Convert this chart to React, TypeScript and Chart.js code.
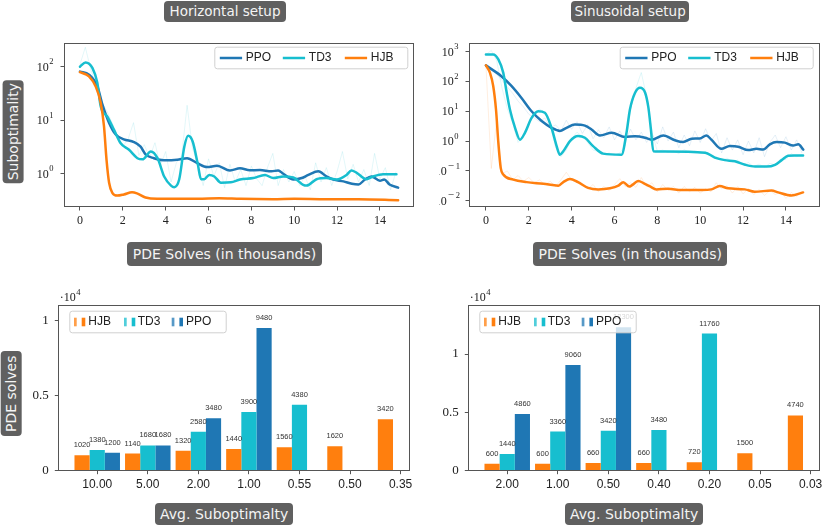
import React, { useEffect, useRef } from 'react';
import { Chart, LineController, LineElement, PointElement, LinearScale, LogarithmicScale, BarController, BarElement } from 'chart.js';

Chart.register(LineController, LineElement, PointElement, LinearScale, LogarithmicScale, BarController, BarElement);

// colours and fonts
const C_PPO = '#1f77b4';
const C_TD3 = '#17becf';
const C_HJB = '#ff7f0e';
const FRAME = '#555';
const INK = '#222';
const SERIF = '"Liberation Serif", "DejaVu Serif", serif';
const SANS = '"Liberation Sans", Arial, sans-serif';
const BADGE = '"DejaVu Sans", sans-serif';

// ---- line charts: [x (thousand PDE solves), suboptimality] ----
const lineXTicks = [0, 2, 4, 6, 8, 10, 12, 14];
const hzYTicks = [1, 10, 100];
const sinYTicks = [0.01, 0.1, 1, 10, 100, 1000];

const hzPpo: [number, number][] = [
  [0, 81], [0.42, 71], [0.81, 43], [1.05, 19.5], [1.36, 8.9], [1.67, 5.4], [2.05, 4.4], [2.52, 3.9],
  [2.83, 3.2], [3.06, 2.3], [3.45, 1.95], [3.92, 1.78], [4.54, 1.82], [5.0, 1.95], [5.47, 1.58],
  [5.93, 1.33], [6.4, 1.41], [7.0, 1.15], [7.47, 1.26], [7.93, 1.16], [8.4, 1.17], [8.94, 1.11],
  [9.25, 1.15], [9.49, 1.0], [9.96, 0.78], [10.35, 0.83], [10.66, 0.95], [11.13, 1.11], [11.5, 0.89],
  [11.82, 0.78], [12.3, 0.72], [12.69, 0.65], [13.0, 0.63], [13.3, 0.78], [13.6, 0.89], [14.0, 0.74],
  [14.2, 0.78], [14.45, 0.63], [14.85, 0.55],
];
const hzTd3: [number, number][] = [
  [0, 100], [0.26, 120], [0.58, 95], [0.81, 50], [0.97, 18], [1.28, 11.7], [1.59, 6.6], [1.9, 3.7],
  [2.29, 2.8], [2.68, 1.95], [2.92, 1.86], [3.31, 2.6], [3.62, 1.95], [3.93, 0.89], [4.25, 0.6],
  [4.4, 0.56], [4.63, 0.78], [4.87, 3.2], [5.05, 5.1], [5.26, 4.0], [5.49, 1.58], [5.65, 0.79],
  [5.8, 0.79], [6.03, 0.95], [6.27, 0.89], [6.58, 0.68], [7.04, 0.69], [7.47, 0.78], [8.09, 0.83],
  [8.63, 0.95], [9.02, 0.83], [9.49, 0.89], [9.96, 0.85], [10.42, 0.62], [10.58, 0.6], [11.04, 0.79],
  [11.5, 0.83], [11.98, 0.78], [12.44, 0.95], [12.67, 1.15], [12.9, 1.05], [13.37, 0.79], [13.68, 0.89],
  [14.15, 0.98], [14.77, 0.98],
];
const hzHjb: [number, number][] = [
  [0, 79], [0.42, 66], [0.73, 43], [0.97, 21], [1.12, 7.8], [1.24, 1.82], [1.36, 0.68], [1.51, 0.44],
  [1.74, 0.39], [2.05, 0.41], [2.43, 0.45], [2.66, 0.43], [3.06, 0.36], [3.6, 0.34], [4.4, 0.34],
  [5.5, 0.34], [6.5, 0.35], [7.5, 0.34], [9, 0.335], [10, 0.34], [11.5, 0.335], [13, 0.335], [14.85, 0.32],
];
const sinPpo: [number, number][] = [
  [0, 347], [0.72, 151], [1.19, 71], [1.66, 28], [2.13, 10], [2.6, 4.7], [3.06, 2.8], [3.45, 2.2],
  [3.76, 2.8], [4.15, 3.6], [4.62, 3.3], [4.93, 2.45], [5.32, 1.55], [5.87, 1.9], [6.49, 1.38],
  [6.96, 1.45], [7.43, 1.3], [7.73, 1.12], [8.28, 1.55], [8.82, 1.07], [9.2, 0.93], [9.6, 1.2],
  [9.98, 1.23], [10.29, 1.55], [10.52, 1.12], [10.99, 0.55], [11.38, 0.68], [11.77, 0.65], [12.24, 0.5],
  [12.63, 0.55], [12.94, 0.52], [13.25, 0.78], [13.56, 0.93], [13.95, 0.89], [14.34, 0.71], [14.58, 0.78],
  [14.81, 0.52],
];
const sinTd3: [number, number][] = [
  [0, 813], [0.34, 813], [0.58, 550], [0.81, 195], [0.97, 42], [1.12, 11.5], [1.36, 2.8], [1.59, 1.12],
  [1.82, 1.9], [2.13, 6.0], [2.44, 10], [2.75, 8.9], [3.06, 2.8], [3.3, 0.68], [3.45, 0.35], [3.61, 0.46],
  [3.92, 1.0], [4.3, 1.48], [4.62, 1.29], [5.0, 0.68], [5.47, 0.38], [6.33, 0.35], [6.56, 1.9],
  [6.72, 11.5], [6.96, 42], [7.19, 62], [7.43, 42], [7.58, 13.5], [7.7, 2.45], [7.81, 0.46], [8.36, 0.45],
  [10.23, 0.41], [10.68, 0.28], [11.15, 0.23], [11.62, 0.21], [12.1, 0.16], [12.56, 0.14], [13.1, 0.14],
  [13.49, 0.16], [13.8, 0.23], [14.1, 0.32], [14.4, 0.33], [14.8, 0.33],
];
const sinHjb: [number, number][] = [
  [0, 347], [0.19, 195], [0.34, 71], [0.47, 11.5], [0.58, 0.87], [0.69, 0.126], [0.81, 0.076],
  [1.28, 0.051], [1.9, 0.042], [2.68, 0.037], [3.38, 0.032], [3.61, 0.042], [3.92, 0.054], [4.3, 0.042],
  [4.77, 0.027], [5.24, 0.024], [5.79, 0.026], [6.18, 0.032], [6.41, 0.042], [6.69, 0.03], [7.12, 0.046],
  [7.35, 0.039], [7.66, 0.03], [7.96, 0.024], [8.5, 0.025], [9.13, 0.023], [10.06, 0.023], [10.52, 0.024],
  [10.91, 0.031], [11.3, 0.026], [12.08, 0.024], [12.54, 0.02], [13.33, 0.022], [13.64, 0.019],
  [14.26, 0.015], [14.8, 0.019],
];

// faint un-smoothed runs, sampled every 250 solves
const rawX = [
  0, 0.25, 0.5, 0.75, 1, 1.25, 1.5, 1.75, 2, 2.25, 2.5, 2.75, 3, 3.25, 3.5, 3.75, 4, 4.25, 4.5, 4.75,
  5, 5.25, 5.5, 5.75, 6, 6.25, 6.5, 6.75, 7, 7.25, 7.5, 7.75, 8, 8.25, 8.5, 8.75, 9, 9.25, 9.5, 9.75,
  10, 10.25, 10.5, 10.75, 11, 11.25, 11.5, 11.75, 12, 12.25, 12.5, 12.75, 13, 13.25, 13.5, 13.75, 14, 14.25, 14.5, 14.75,
];
const hzTd3Raw = [
  110, 230, 90, 45, 22, 15, 9, 5, 3.2, 4.5, 9, 2.2, 3.5, 2.0, 3.8, 1.4, 2.6, 0.7, 1.6, 2.2,
  19, 3.0, 1.5, 0.6, 1.9, 0.9, 1.6, 0.55, 1.5, 0.7, 1.2, 0.6, 1.4, 0.8, 0.6, 1.3, 2.4, 0.6, 1.2, 0.7,
  1.1, 0.6, 0.9, 0.5, 1.6, 0.7, 1.3, 0.6, 1.1, 2.6, 0.8, 1.5, 0.7, 1.2, 0.6, 2.4, 0.8, 1.3, 0.5, 1.1,
];
const sinPpoRaw = [
  340, 250, 170, 110, 65, 40, 22, 14, 8, 6, 4.5, 6, 2.8, 3.5, 2.2, 5, 2.5, 4.5, 1.8, 3.6,
  1.2, 2.4, 1.3, 3.0, 1.1, 2.2, 1.0, 2.5, 1.1, 2.0, 0.9, 1.8, 0.8, 3.0, 1.0, 2.0, 0.6, 1.6, 0.7, 2.2,
  0.9, 2.6, 1.0, 1.8, 0.4, 1.3, 0.5, 1.1, 0.35, 1.0, 0.4, 1.3, 0.3, 0.9, 1.6, 0.6, 1.4, 0.5, 1.1, 0.4,
];
const sinTd3Raw = [
  800, 1100, 500, 60, 12, 4, 0.9, 1.5, 4, 7, 12, 9, 3.5, 0.6, 0.3, 0.5, 1.2, 2.0, 1.4, 0.9,
  0.5, 0.45, 0.35, 0.4, 0.33, 0.4, 0.7, 12, 60, 200, 30, 2, 0.45, 0.5, 0.42, 0.47, 0.38, 0.52, 0.41, 0.46,
  0.39, 0.44, 0.3, 0.3, 0.22, 0.27, 0.2, 0.23, 0.16, 0.19, 0.14, 0.17, 0.13, 0.18, 0.16, 0.25, 0.24, 0.38, 0.3, 0.36,
];
const sinHjbRaw = [
  360, 0.12, 5, 0.08, 0.1, 0.05, 0.07, 0.045, 0.06, 0.04, 0.05, 0.035, 0.045, 0.03, 0.05, 0.09, 0.05, 0.04, 0.035, 0.025,
  0.035, 0.02, 0.03, 0.022, 0.035, 0.055, 0.03, 0.04, 0.028, 0.06, 0.03, 0.04, 0.02, 0.035, 0.022, 0.03, 0.018, 0.03, 0.02, 0.028,
  0.018, 0.025, 0.02, 0.04, 0.025, 0.032, 0.018, 0.03, 0.017, 0.026, 0.016, 0.024, 0.015, 0.022, 0.016, 0.02, 0.012, 0.019, 0.014, 0.02,
];

// ---- bar charts: PDE solves needed to reach an average suboptimality ----
const barYTicks = [0, 5000, 10000];
const barYLabels = ['0', '0.5', '1'];

const hzCats = ['10.00', '5.00', '2.00', '1.00', '0.55', '0.50', '0.35'];
const hzBarHjb = [1020, 1140, 1320, 1440, 1560, 1620, 3420];
const hzBarTd3 = [1380, 1680, 2580, 3900, 4380, null, null];
const hzBarPpo = [1200, 1680, 3480, 9480, null, null, null];

const sinCats = ['2.00', '1.00', '0.50', '0.40', '0.20', '0.05', '0.03'];
const sinBarHjb = [600, 600, 660, 660, 720, 1500, 4740];
const sinBarTd3 = [1440, 3360, 3420, 3480, 11760, null, null];
const sinBarPpo = [4860, 9060, 12300, null, null, null, null];

const framePlugin = {
  id: 'frame',
  afterDraw(chart: any) {
    const { ctx, chartArea: a } = chart;
    ctx.save();
    ctx.strokeStyle = FRAME;
    ctx.lineWidth = 1;
    ctx.strokeRect(Math.round(a.left) + 0.5, Math.round(a.top) + 0.5, Math.round(a.right - a.left) - 1, Math.round(a.bottom - a.top) - 1);
    ctx.restore();
  },
};

function legendBox(ctx: any, x: number, y: number, w: number, h: number) {
  ctx.beginPath();
  ctx.roundRect(x + 0.5, y + 0.5, w, h, 2.5);
  ctx.fillStyle = 'rgba(255,255,255,0.8)';
  ctx.fill();
  ctx.strokeStyle = '#d0d0d0';
  ctx.lineWidth = 1;
  ctx.stroke();
}

// 10^n labels of the log axes, drawn with a raised exponent
const powLabels = {
  id: 'powLabels',
  afterDraw(chart: any) {
    const { ctx, chartArea: a, scales } = chart;
    const ys = scales.y;
    ctx.save();
    ctx.fillStyle = INK;
    ctx.textAlign = 'left';
    ctx.textBaseline = 'alphabetic';
    for (const t of ys.ticks) {
      const py = ys.getPixelForValue(t.value);
      const e = Math.round(Math.log10(t.value));
      const digits = String(Math.abs(e));
      ctx.font = `12px ${SERIF}`;
      const bw = ctx.measureText('10').width;
      ctx.font = `8.5px ${SERIF}`;
      const dw = ctx.measureText(digits).width;
      const mw = e < 0 ? 8.5 : 0;
      const right = e < 0 ? a.left - 9 : a.left - 10.5;
      const x0 = right - dw - mw - bw - 0.5;
      ctx.font = `12px ${SERIF}`;
      ctx.fillText('10', x0, py + 4);
      if (e < 0) {
        ctx.font = `11px ${SERIF}`;
        ctx.fillText('\u2212', x0 + bw + 1, py - 2.3);
      }
      ctx.font = `8.5px ${SERIF}`;
      ctx.fillText(digits, x0 + bw + 0.5 + mw, py - 2.3);
    }
    ctx.restore();
  },
};

function lineLegend(rightGap: number) {
  return {
    id: 'lineLegend',
    afterDraw(chart: any) {
      const { ctx, chartArea: a } = chart;
      const w = 193, h = 21.6;
      const x0 = a.right - rightGap - w, y0 = a.top + 3.7;
      ctx.save();
      legendBox(ctx, x0, y0, w, h);
      const cy = y0 + h / 2 + 0.5;
      const items: [string, string, number][] = [[C_PPO, 'PPO', 5.5], [C_TD3, 'TD3', 68.5], [C_HJB, 'HJB', 130.5]];
      for (const [c, t, off] of items) {
        ctx.strokeStyle = c;
        ctx.lineWidth = 2.5;
        ctx.beginPath();
        ctx.moveTo(x0 + off, cy);
        ctx.lineTo(x0 + off + 22.3, cy);
        ctx.stroke();
        ctx.fillStyle = INK;
        ctx.font = `12px ${SANS}`;
        ctx.textAlign = 'left';
        ctx.textBaseline = 'middle';
        ctx.fillText(t, x0 + off + 26, cy);
      }
      ctx.restore();
    },
  };
}

function smooth(label: string, color: string, pts: [number, number][], order: number) {
  return {
    label, order, borderColor: color, borderWidth: 2.5, pointRadius: 0,
    cubicInterpolationMode: 'monotone', borderCapStyle: 'round',
    data: pts.map(([x, y]) => ({ x, y })),
  };
}

function raw(color: string, ys: number[], order: number) {
  return {
    order, borderColor: color, borderWidth: 1, pointRadius: 0,
    data: rawX.map((x, i) => ({ x, y: ys[i] })),
  };
}

function lineConfig(o: any) {
  const tickGrid = { drawOnChartArea: false, drawTicks: true, tickLength: 3.5, tickWidth: 1, tickColor: FRAME };
  return {
    type: 'line',
    data: { datasets: o.datasets },
    options: {
      responsive: false,
      animation: false,
      events: [],
      layout: { padding: o.pad },
      plugins: { legend: { display: false }, tooltip: { enabled: false } },
      scales: {
        x: {
          type: 'linear', min: o.xMin, max: o.xMax,
          afterBuildTicks: (s: any) => { s.ticks = lineXTicks.map((v) => ({ value: v })); },
          afterFit: (s: any) => { s.height = 28; },
          grid: tickGrid,
          border: { display: false },
          ticks: { font: { family: SERIF, size: 12 }, color: INK, padding: 3, maxRotation: 0, autoSkip: false, callback: (v: any) => String(v) },
        },
        y: {
          type: 'logarithmic', min: o.yMin, max: o.yMax,
          afterBuildTicks: (s: any) => { s.ticks = o.yTicks.map((v: number) => ({ value: v })); },
          afterFit: (s: any) => { s.width = o.yAxisW; },
          grid: tickGrid,
          border: { display: false },
          ticks: { display: false },
        },
      },
    },
    plugins: [framePlugin, powLabels, lineLegend(o.legendGap)],
  };
}

const barValues = {
  id: 'barValues',
  afterDatasetsDraw(chart: any) {
    const { ctx } = chart;
    ctx.save();
    ctx.font = `7.5px ${SANS}`;
    ctx.fillStyle = '#333';
    ctx.textAlign = 'center';
    ctx.textBaseline = 'middle';
    chart.data.datasets.forEach((d: any, di: number) => {
      const meta = chart.getDatasetMeta(di);
      meta.data.forEach((el: any, i: number) => {
        const v = d.data[i].y;
        if (v == null) return;
        ctx.fillText(String(v), el.x, el.y - 10);
      });
    });
    ctx.restore();
  },
};

const barDecor = {
  id: 'barDecor',
  afterDraw(chart: any) {
    const { ctx, chartArea: a } = chart;
    ctx.save();
    // offset text of the y axis
    ctx.fillStyle = INK;
    ctx.textAlign = 'left';
    ctx.textBaseline = 'alphabetic';
    ctx.font = `12px ${SERIF}`;
    ctx.fillText('\u00b710', a.left + 1.5, a.top - 3.7);
    const w = ctx.measureText('\u00b710').width;
    ctx.font = `8.5px ${SERIF}`;
    ctx.fillText('4', a.left + 2 + w, a.top - 10);
    // legend
    const x0 = a.left + 11, y0 = a.top + 5.7, bw = 156.4, bh = 21.6;
    legendBox(ctx, x0, y0, bw, bh);
    const cy = y0 + bh / 2 + 0.5;
    const items: [string, string, number, number][] = [[C_HJB, 'HJB', 4.7, 19], [C_TD3, 'TD3', 54.7, 68.4], [C_PPO, 'PPO', 102.4, 116.7]];
    for (const [c, t, off, toff] of items) {
      ctx.fillStyle = c;
      ctx.globalAlpha = 0.75;
      ctx.fillRect(x0 + off, cy - 4.3, 2.7, 8.6);
      ctx.globalAlpha = 1;
      ctx.fillRect(x0 + off + 7.7, cy - 4.3, 3.6, 8.6);
      ctx.fillStyle = INK;
      ctx.font = `12px ${SANS}`;
      ctx.textBaseline = 'middle';
      ctx.fillText(t, x0 + toff, cy);
      ctx.textBaseline = 'alphabetic';
    }
    ctx.restore();
  },
};

function barConfig(o: any) {
  const tickGrid = { offset: false, drawOnChartArea: false, drawTicks: true, tickLength: 3.5, tickWidth: 1, tickColor: FRAME };
  const ds = (label: string, color: string, vals: (number | null)[]) => ({
    label, backgroundColor: color, categoryPercentage: 0.9, barPercentage: 1,
    data: vals.map((v, i) => ({ x: i, y: v })),
  });
  return {
    type: 'bar',
    data: { datasets: [ds('HJB', C_HJB, o.hjb), ds('TD3', C_TD3, o.td3), ds('PPO', C_PPO, o.ppo)] },
    options: {
      responsive: false,
      animation: false,
      events: [],
      layout: { padding: o.pad },
      plugins: { legend: { display: false }, tooltip: { enabled: false } },
      scales: {
        x: {
          type: 'linear', min: -0.77, max: 6.2, offset: false,
          afterBuildTicks: (s: any) => { s.ticks = o.cats.map((_: string, i: number) => ({ value: i })); },
          afterFit: (s: any) => { s.height = 24.3; },
          grid: tickGrid,
          border: { display: false },
          ticks: { font: { family: SANS, size: 12 }, color: INK, padding: 3, maxRotation: 0, autoSkip: false, callback: (_v: any, i: number) => o.cats[i] },
        },
        y: {
          min: 0, max: o.yMax,
          afterBuildTicks: (s: any) => { s.ticks = barYTicks.map((v) => ({ value: v })); },
          afterFit: (s: any) => { s.width = o.yAxisW; },
          grid: tickGrid,
          border: { display: false },
          ticks: { font: { family: SERIF, size: 13 }, color: INK, padding: 6, callback: (_v: any, i: number) => barYLabels[i] },
        },
      },
    },
    plugins: [framePlugin, barValues, barDecor],
  };
}

function ChartBox({ make, left, top, width, height }: any) {
  const ref = useRef<HTMLCanvasElement | null>(null);
  useEffect(() => {
    if (!ref.current) return;
    const chart = new Chart(ref.current, make());
    return () => chart.destroy();
  }, []);
  return <canvas ref={ref} width={width} height={height} style={{ position: 'absolute', left, top, width, height }} />;
}

function Badge({ text, left, top, w, h, size, vertical }: any) {
  return (
    <div
      style={{
        position: 'absolute', left, top, width: w, height: h, boxSizing: 'border-box',
        background: '#606060', color: '#f4f4f4', borderRadius: 4,
        display: 'flex', alignItems: 'center', justifyContent: 'center',
        fontFamily: BADGE, fontSize: size, whiteSpace: 'nowrap', lineHeight: 1,
        writingMode: vertical ? 'vertical-rl' : undefined,
        transform: vertical ? 'rotate(180deg)' : undefined,
      }}
    >
      {text}
    </div>
  );
}

export default function App() {
  return (
    <div style={{ position: 'fixed', left: 0, top: 0, width: 831, height: 526, background: '#fff', overflow: 'hidden' }}>
      <ChartBox
        left={0} top={30} width={420} height={205}
        make={() => lineConfig({
          xMin: -0.745, xMax: 15.59, yMin: 0.239, yMax: 277, yTicks: hzYTicks, yAxisW: 64, legendGap: 6.7,
          pad: { left: 0, top: 13, right: 6, bottom: 0 },
          datasets: [
            smooth('HJB', C_HJB, hzHjb, 0),
            smooth('TD3', C_TD3, hzTd3, 1),
            smooth('PPO', C_PPO, hzPpo, 2),
            raw('rgba(23,190,207,0.12)', hzTd3Raw, 3),
          ],
        })}
      />
      <ChartBox
        left={439} top={30} width={392} height={205}
        make={() => lineConfig({
          xMin: -0.79, xMax: 15.59, yMin: 0.00615, yMax: 1958, yTicks: sinYTicks, yAxisW: 30, legendGap: 7.3,
          pad: { left: 0, top: 13, right: 11, bottom: 0 },
          datasets: [
            smooth('HJB', C_HJB, sinHjb, 0),
            smooth('TD3', C_TD3, sinTd3, 1),
            smooth('PPO', C_PPO, sinPpo, 2),
            raw('rgba(255,127,14,0.13)', sinHjbRaw, 3),
            raw('rgba(23,190,207,0.13)', sinTd3Raw, 4),
            raw('rgba(31,119,180,0.11)', sinPpoRaw, 5),
          ],
        })}
      />
      <ChartBox
        left={0} top={285} width={420} height={210}
        make={() => barConfig({
          cats: hzCats, hjb: hzBarHjb, td3: hzBarTd3, ppo: hzBarPpo, yMax: 11010, yAxisW: 58.3,
          pad: { left: 0, top: 20, right: 9.3, bottom: 0 },
        })}
      />
      <ChartBox
        left={430} top={285} width={401} height={210}
        make={() => barConfig({
          cats: sinCats, hjb: sinBarHjb, td3: sinBarTd3, ppo: sinBarPpo, yMax: 14200, yAxisW: 38.3,
          pad: { left: 0, top: 20, right: 10.3, bottom: 0 },
        })}
      />
      <Badge text="Horizontal setup" left={164} top={1} w={122} h={21.3} size={13.5} />
      <Badge text="Sinusoidal setup" left={571} top={1} w={118.3} h={21.3} size={13.5} />
      <Badge text="Suboptimality" left={2.7} top={80} w={20.6} h={103.3} size={14} vertical />
      <Badge text="PDE Solves (in thousands)" left={126.7} top={241.7} w={195.6} h={24} size={14} />
      <Badge text="PDE Solves (in thousands)" left={533.3} top={241.7} w={194} h={24} size={14} />
      <Badge text="PDE solves" left={1} top={350.7} w={20.7} h={85} size={14} vertical />
      <Badge text="Avg. Suboptimalty" left={155} top={503.3} w={138.3} h={22} size={14} />
      <Badge text="Avg. Suboptimalty" left={565} top={503.3} w={138.3} h={22} size={14} />
    </div>
  );
}
